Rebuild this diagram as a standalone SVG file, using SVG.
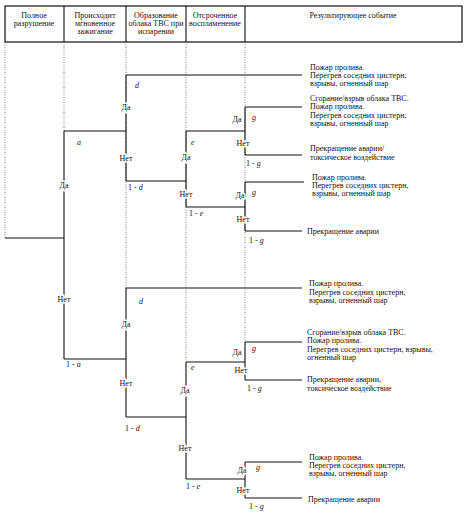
<svg xmlns="http://www.w3.org/2000/svg" width="466" height="513" viewBox="0 0 466 513">
<style>
text{font-family:"Liberation Serif","Times New Roman",serif;font-size:8px;fill:#111}
.h{text-anchor:middle}
.lb{text-anchor:middle;paint-order:stroke;stroke:#fff;stroke-width:3px}
.p{font-style:italic}
.dot{stroke:#555;stroke-width:0.8;stroke-dasharray:1 1.5;fill:none}
.sol{stroke:#111;stroke-width:1.1;fill:none}
</style>
<rect width="466" height="513" fill="#fff"/>
<g id="header">
<rect x="5" y="6" width="457" height="36" fill="none" stroke="#111" stroke-width="1.2"/>
<path class="sol" d="M64 6V42M126 6V42M186 6V42M245 6V42"/>
<text class="h" x="34" y="18">Полное</text><text class="h" x="34" y="26">разрушение</text>
<text class="h" x="95" y="18">Происходит</text><text class="h" x="95" y="26">мгновенное</text><text class="h" x="95" y="34">зажигание</text>
<text class="h" x="156" y="18">Образование</text><text class="h" x="156" y="26">облака ТВС при</text><text class="h" x="156" y="34">испарении</text>
<text class="h" x="215" y="18">Отсроченное</text><text class="h" x="215" y="26">воспламенение</text>
<text class="h" x="353" y="18">Результирующее событие</text>
</g>
<g id="guides">
<path class="dot" d="M5 42V238M64 42V131M126 42V288M186 42V362M245 42V342"/>
</g>
<g id="connectors">
<path class="sol" d="M5 238H64M64 131V359M64 131H126M64 359H126"/>
<path class="sol" d="M126 75V181M126 75H302M126 181H186"/>
<path class="sol" d="M186 131V207M186 131H245M186 207H245"/>
<path class="sol" d="M245 107V155M245 107H302M245 155H302"/>
<path class="sol" d="M245 182V231M245 182H304M245 231H302"/>
<path class="sol" d="M126 288V417M126 288H302M126 417H186"/>
<path class="sol" d="M186 362V479M186 362H245M186 479H245"/>
<path class="sol" d="M245 342V380M245 342H302M245 380H302"/>
<path class="sol" d="M245 462V498M245 462H302M245 498H302"/>
</g>
<g id="labels">
<text class="p" x="77" y="145">a</text>
<text class="lb" x="64" y="188">Да</text>
<text class="lb" x="64" y="302">Нет</text>
<text x="66" y="367">1 - <tspan class="p">a</tspan></text>
<text class="p" x="135" y="88">d</text>
<text class="lb" x="126" y="110">Да</text>
<text class="lb" x="126" y="161">Нет</text>
<text x="128" y="190">1 - <tspan class="p">d</tspan></text>
<text class="p" x="191" y="145">e</text>
<text class="lb" x="186" y="160">Да</text>
<text class="lb" x="186" y="197">Нет</text>
<text x="189" y="216">1 - <tspan class="p">e</tspan></text>
<text class="lb" x="237" y="122">Да</text>
<text class="p" x="252" y="120">g</text>
<text class="lb" x="243" y="146">Нет</text>
<text x="246" y="166">1 - <tspan class="p">g</tspan></text>
<text class="lb" x="240" y="198">Да</text>
<text class="p" x="252" y="195">g</text>
<text class="lb" x="243" y="222">Нет</text>
<text x="249" y="243">1 - <tspan class="p">g</tspan></text>
<text class="p" x="139" y="304">d</text>
<text class="lb" x="126" y="327">Да</text>
<text class="lb" x="126" y="386">Нет</text>
<text x="125" y="431">1 - <tspan class="p">d</tspan></text>
<text class="p" x="191" y="370">e</text>
<text class="lb" x="185" y="393">Да</text>
<text class="lb" x="185" y="451">Нет</text>
<text x="186" y="489">1 - <tspan class="p">e</tspan></text>
<text class="lb" x="237" y="355">Да</text>
<text class="p" x="252" y="351">g</text>
<text class="lb" x="241" y="373">Нет</text>
<text x="247" y="391">1 - <tspan class="p">g</tspan></text>
<text class="lb" x="242" y="473">Да</text>
<text class="p" x="256" y="470">g</text>
<text class="lb" x="243" y="493">Нет</text>
<text x="249" y="509">1 - <tspan class="p">g</tspan></text>
</g>
<g id="outcomes">
<text x="310" y="70">Пожар пролива.</text><text x="310" y="78">Перегрев соседних цистерн,</text><text x="310" y="86">взрывы, огненный шар</text>
<text x="310" y="101">Сгорание/взрыв облака ТВС.</text><text x="310" y="109">Пожар пролива.</text><text x="310" y="118">Перегрев соседних цистерн,</text><text x="310" y="126">взрывы, огненный шар</text>
<text x="310" y="151">Прекращение аварии/</text><text x="310" y="160">токсическое воздействие</text>
<text x="312" y="180">Пожар пролива.</text><text x="312" y="188">Перегрев соседних цистерн,</text><text x="312" y="196">взрывы, огненный шар</text>
<text x="307" y="234">Прекращение аварии</text>
<text x="309" y="286">Пожар пролива.</text><text x="309" y="295">Перегрев соседних цистерн,</text><text x="309" y="303">взрывы, огненный шар</text>
<text x="307" y="335">Сгорание/взрыв облака ТВС.</text><text x="307" y="343">Пожар пролива.</text><text x="307" y="352">Перегрев соседних цистерн, взрывы,</text><text x="307" y="360">огненный шар</text>
<text x="307" y="382">Прекращение аварии,</text><text x="307" y="391">токсическое воздействие</text>
<text x="309" y="460">Пожар пролива.</text><text x="309" y="468">Перегрев соседних цистерн,</text><text x="309" y="476">взрывы, огненный шар</text>
<text x="308" y="502">Прекращение аварии</text>
</g>
</svg>
